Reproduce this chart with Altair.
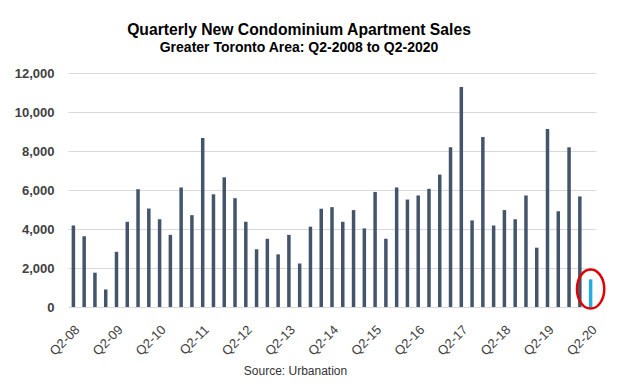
import altair as alt
import pandas as pd

# Quarter labels Q2-08 ... Q2-20
quarters = [
    "Q2-08", "Q3-08", "Q4-08", "Q1-09", "Q2-09", "Q3-09", "Q4-09", "Q1-10",
    "Q2-10", "Q3-10", "Q4-10", "Q1-11", "Q2-11", "Q3-11", "Q4-11", "Q1-12",
    "Q2-12", "Q3-12", "Q4-12", "Q1-13", "Q2-13", "Q3-13", "Q4-13", "Q1-14",
    "Q2-14", "Q3-14", "Q4-14", "Q1-15", "Q2-15", "Q3-15", "Q4-15", "Q1-16",
    "Q2-16", "Q3-16", "Q4-16", "Q1-17", "Q2-17", "Q3-17", "Q4-17", "Q1-18",
    "Q2-18", "Q3-18", "Q4-18", "Q1-19", "Q2-19", "Q3-19", "Q4-19", "Q1-20",
    "Q2-20",
]

sales = [
    4180, 3630, 1760, 900, 2830, 4370, 6040, 5050,
    4500, 3700, 6130, 4710, 8670, 5780, 6650, 5580,
    4370, 2960, 3500, 2700, 3700, 2230, 4120, 5040,
    5120, 4370, 4970, 4030, 5900, 3500, 6130, 5510,
    5720, 6060, 6790, 8190, 11280, 4440, 8720, 4180,
    4970, 4500, 5720, 3040, 9130, 4910, 8190, 5670,
    1420,
]

tick_labels = ["Q2-08", "Q2-09", "Q2-10", "Q2-11", "Q2-12", "Q2-13", "Q2-14",
               "Q2-15", "Q2-16", "Q2-17", "Q2-18", "Q2-19", "Q2-20"]
y_ticks = [0, 2000, 4000, 6000, 8000, 10000, 12000]

highlight_quarter = ["Q2-20"]
highlight_center = [920]

df = pd.DataFrame({"quarter": quarters, "sales": sales})
hl = pd.DataFrame({"quarter": highlight_quarter, "sales": highlight_center})

x_axis = alt.Axis(
    values=tick_labels,
    labelAngle=-45,
    labelFontSize=13,
    labelColor="#404040",
    labelPadding=16,
    labelOverlap=False,
    ticks=False,
    domain=True,
    domainColor="#d9d9d9",
    grid=False,
    title="Source: Urbanation",
    titleFontSize=12,
    titleFontWeight="normal",
    titleColor="#333333",
    titleX=227,
    titleY=63,
    titleBaseline="middle",
)

y_axis = alt.Axis(
    values=y_ticks,
    format=",d",
    labelFontSize=13,
    labelFontWeight="bold",
    labelColor="#404040",
    labelPadding=14,
    labelOverlap=False,
    ticks=False,
    domain=False,
    gridColor="#d9d9d9",
    title=None,
)

x_scale = alt.Scale(paddingInner=0, paddingOuter=0)
y_scale = alt.Scale(domain=[0, 12000])

bars = alt.Chart(df).mark_bar(size=3.5).encode(
    x=alt.X("quarter:N", sort=quarters, scale=x_scale, axis=x_axis),
    y=alt.Y("sales:Q", scale=y_scale, axis=y_axis),
    color=alt.condition(
        alt.FieldOneOfPredicate(field="quarter", oneOf=highlight_quarter),
        alt.value("#29abe2"),
        alt.value("#44546a"),
    ),
)

ellipse = alt.Chart(hl).mark_point(
    shape="M -0.7 0 A 0.7 1 0 1 0 0.7 0 A 0.7 1 0 1 0 -0.7 0 Z",
    size=1521,
    filled=False,
    stroke="#e00000",
    strokeWidth=2.5,
    opacity=1,
).encode(
    x=alt.X("quarter:N", sort=quarters, scale=x_scale, axis=x_axis),
    y=alt.Y("sales:Q", scale=y_scale, axis=y_axis),
)

chart = alt.layer(bars, ellipse).properties(
    width=528,
    height=234,
    autosize="none",
    padding={"left": 60, "top": 65, "right": 36, "bottom": 72},
    title=alt.TitleParams(
        text="Quarterly New Condominium Apartment Sales",
        subtitle="Greater Toronto Area: Q2-2008 to Q2-2020",
        font="Liberation Sans",
        subtitleFont="Liberation Sans",
        fontSize=15.7,
        subtitleFontSize=14,
        fontWeight="bold",
        subtitleFontWeight="bold",
        color="#000000",
        subtitleColor="#000000",
        anchor="middle",
        dx=-33,
        offset=11,
        subtitlePadding=2,
    ),
).configure(
    font="Liberation Sans",
).configure_view(
    stroke=None,
)

chart.save("out.html", embed_options={"renderer": "svg", "actions": False})
